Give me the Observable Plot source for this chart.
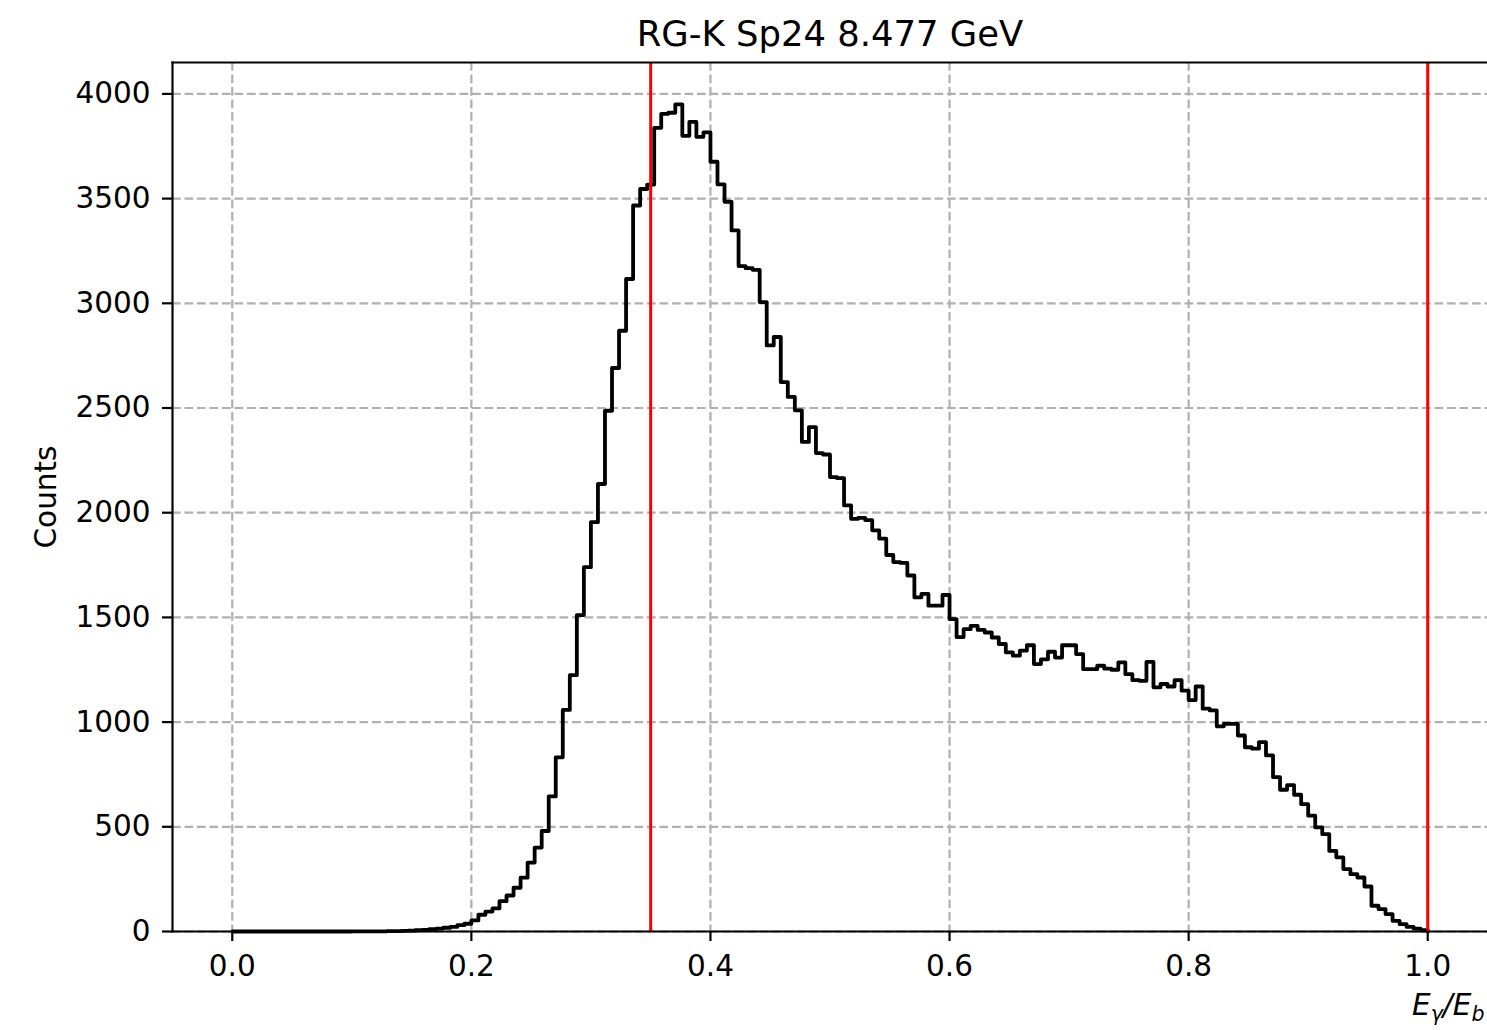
<!DOCTYPE html>
<html>
<head>
<meta charset="utf-8">
<script src="https://cdn.jsdelivr.net/npm/d3@7"></script>
<script src="https://cdn.jsdelivr.net/npm/@observablehq/plot@0.6"></script>
<style>
  html, body { margin: 0; padding: 0; background: #ffffff; }
  #chart svg { display: block; }
</style>
</head>
<body>
<div id="chart"></div>
<script>
// ---- data ----
const title = "RG-K Sp24 8.477 GeV";
const yLabel = "Counts";
const xLabel = "Eγ/Eb";
const binLow = 0.0;
const binHigh = 1.0;
// counts per bin (170 equal bins between binLow and binHigh)
const counts = [
  0, 0, 0, 0, 0, 0, 0, 0, 0, 0,
  0, 0, 0, 0, 0, 0, 0, 1, 1, 1,
  1, 1, 2, 2, 3, 4, 6, 8, 11, 14,
  18, 22, 30, 37, 53, 80, 95, 110, 145, 172,
  209, 257, 329, 401, 480, 645, 832, 1058, 1224, 1511,
  1740, 1955, 2137, 2487, 2691, 2869, 3116, 3467, 3546, 3567,
  3838, 3905, 3910, 3950, 3800, 3866, 3795, 3816, 3676, 3568,
  3485, 3348, 3178, 3168, 3160, 3006, 2799, 2839, 2624, 2553,
  2489, 2338, 2409, 2285, 2278, 2170, 2165, 2035, 1971, 1975,
  1965, 1916, 1876, 1798, 1764, 1760, 1700, 1596, 1612, 1556,
  1556, 1607, 1492, 1406, 1444, 1460, 1440, 1428, 1404, 1373,
  1333, 1317, 1341, 1367, 1277, 1300, 1336, 1308, 1367, 1367,
  1325, 1253, 1253, 1269, 1255, 1250, 1285, 1229, 1200, 1197,
  1288, 1166, 1182, 1170, 1200, 1150, 1105, 1170, 1064, 1056,
  980, 992, 992, 936, 880, 873, 904, 841, 737, 677,
  699, 653, 608, 553, 497, 465, 385, 354, 298, 274,
  258, 215, 123, 107, 83, 51, 35, 22, 14, 6
];
const cutLines = [0.35, 1.0];
const xTicks = [0.0, 0.2, 0.4, 0.6, 0.8, 1.0];
const yTicks = [0, 500, 1000, 1500, 2000, 2500, 3000, 3500, 4000];
const xDomain = [-0.05, 1.05];
const yDomain = [0, 4150];

// ---- build the step outline (matplotlib histtype="step") ----
const nBins = counts.length;
const binW = (binHigh - binLow) / nBins;
const outline = [{x: binLow, y: 0}];
counts.forEach((c, i) => outline.push({x: binLow + i * binW, y: c}));
outline.push({x: binHigh, y: counts[nBins - 1]});
outline.push({x: binHigh, y: 0});

const FS = 29.5;
const gridStyle = {stroke: "#b0b0b0", strokeOpacity: 1, strokeWidth: 2.2, strokeDasharray: "8.7,3.8"};

const chart = Plot.plot({
  width: 1487,
  height: 1030,
  marginLeft: 172,
  marginRight: 0,
  marginTop: 62,
  marginBottom: 99,
  style: {fontFamily: "DejaVu Sans", color: "black", background: "white"},
  x: {domain: xDomain},
  y: {domain: yDomain},
  marks: [
    Plot.gridX(xTicks, gridStyle),
    Plot.gridY(yTicks, gridStyle),
    Plot.line(outline, {x: "x", y: "y", curve: "step-after", stroke: "black", strokeWidth: 3.8}),
    Plot.ruleX(cutLines, {stroke: "red", strokeWidth: 3}),
    Plot.frame({anchor: "left", strokeWidth: 2.2}),
    Plot.frame({anchor: "top", strokeWidth: 2.2}),
    Plot.frame({anchor: "bottom", strokeWidth: 2.2}),
    Plot.axisX(xTicks, {tickFormat: d3.format(".1f"), tickSize: 10, tickPadding: 14, fontSize: FS, strokeWidth: 2.2, label: null}),
    Plot.axisY(yTicks, {tickFormat: d => String(d), tickSize: 10, tickPadding: 12, fontSize: FS, strokeWidth: 2.2, label: null}),
    Plot.text([title], {text: d => d, frameAnchor: "top", dy: -27.5, fontSize: 35.4, lineAnchor: "middle"}),
    Plot.text([yLabel], {text: d => d, frameAnchor: "left", textAnchor: "middle", dx: -126, rotate: -90, fontSize: FS, lineAnchor: "middle"}),
    Plot.text([xLabel], {text: d => d, frameAnchor: "bottom-right", textAnchor: "end", dx: -3, dy: 73.6, fontSize: FS, lineAnchor: "middle"})
  ]
});

document.getElementById("chart").appendChild(chart);

// math-style x label: E_γ / E_b
d3.select(chart).selectAll("text").filter(function () { return this.textContent === xLabel; }).each(function () {
  const t = d3.select(this);
  t.text(null);
  t.append("tspan").attr("font-style", "italic").text("E");
  t.append("tspan").attr("font-style", "italic").attr("font-size", 20.6).attr("dy", 6.5).text("γ");
  t.append("tspan").attr("font-style", "italic").attr("dy", -6.5).text("/");
  t.append("tspan").attr("font-style", "italic").text("E");
  t.append("tspan").attr("font-style", "italic").attr("font-size", 20.6).attr("dy", 6.5).text("b");
});
</script>
</body>
</html>
